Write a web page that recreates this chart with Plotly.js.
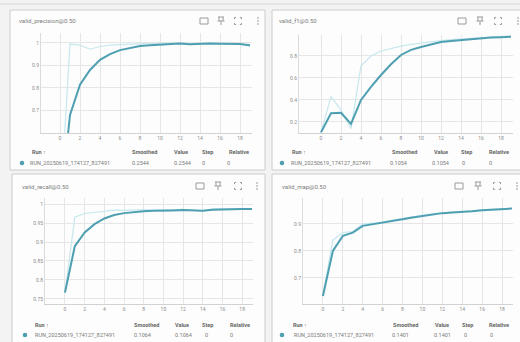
<!DOCTYPE html>
<html><head><meta charset="utf-8">
<script src="https://cdn.plot.ly/plotly-3.0.1.min.js"></script>
<style>html,body{margin:0;padding:0;background:#f3f3f3;}#chart{width:520px;height:342px;}</style>
</head><body><div id="chart"></div>
<script>
// ---------------- data ----------------
const steps = [0,1,2,3,4,5,6,7,8,9,10,11,12,13,14,15,16,17,18,19];
const chartTitles = ['valid_precision@0.50','valid_f1@0.50','valid_recall@0.50','valid_map@0.50'];

const precisionValue    = [0.2544,0.995,0.99,0.972,0.984,0.99,0.992,0.995,0.996,0.997,0.998,0.998,0.999,0.992,0.998,0.999,0.996,0.998,0.994,0.985];
const precisionSmoothed = [0.2544,0.68,0.815,0.88,0.925,0.95,0.968,0.978,0.986,0.99,0.993,0.995,0.997,0.994,0.996,0.997,0.996,0.997,0.995,0.99];

const f1Value    = [0.1054,0.43,0.31,0.14,0.71,0.8,0.845,0.87,0.89,0.905,0.918,0.93,0.94,0.948,0.955,0.962,0.967,0.972,0.976,0.98];
const f1Smoothed = [0.1054,0.28,0.283,0.182,0.4,0.52,0.627,0.725,0.809,0.855,0.882,0.906,0.927,0.936,0.945,0.955,0.962,0.967,0.971,0.975];

const recallValue    = [0.767,0.965,0.975,0.978,0.982,0.984,0.983,0.984,0.985,0.984,0.984,0.985,0.986,0.983,0.982,0.987,0.988,0.987,0.988,0.988];
const recallSmoothed = [0.767,0.889,0.925,0.947,0.962,0.971,0.976,0.979,0.981,0.982,0.982,0.983,0.984,0.983,0.982,0.985,0.986,0.986,0.987,0.987];

const mapValue    = [0.633,0.84,0.868,0.872,0.9,0.902,0.905,0.914,0.92,0.925,0.932,0.938,0.941,0.943,0.945,0.948,0.952,0.954,0.956,0.958];
const mapSmoothed = [0.633,0.8,0.856,0.868,0.893,0.899,0.9025,0.911,0.917,0.924,0.93,0.936,0.94,0.942,0.944,0.947,0.951,0.953,0.955,0.957];

const runName = 'RUN_20250619_174127_827491';
const legendHeaders = ['Run ↑','Smoothed','Value','Step','Relative'];
const legendSmoothed = ['0.2544','0.1054','0.1064','0.1401'];
const legendValue = ['0.2544','0.1054','0.1064','0.1401'];
const legendStep = ['0','0','0','0'];
const legendRelative = ['0','0','0','0'];

const xTickVals = [0,2,4,6,8,10,12,14,16,18];
const xTickText = ['0','2','4','6','8','10','12','14','16','18'];
const yTickVals = [[0.7,0.8,0.9,1],[0.2,0.4,0.6,0.8],[0.75,0.8,0.85,0.9,0.95,1],[0.7,0.8,0.9]];
const yTickText = [['0.7','0.8','0.9','1'],['0.2','0.4','0.6','0.8'],['0.75','0.8','0.85','0.9','0.95','1'],['0.7','0.8','0.9']];

const seriesValue = [precisionValue, f1Value, recallValue, mapValue];
const seriesSmoothed = [precisionSmoothed, f1Smoothed, recallSmoothed, mapSmoothed];

// ---------------- layout geometry (pixels) ----------------
const W = 520, H = 342;
const panels = [
  {plot:[41,252,33,133], xr:[-1.9,19.2], yr:[0.6,1.044], card:[10,265,10,170], title:[17,21], icons:[204,221,238,258], iy:21,
   head:152, row:163, cols:[30,130,172,200,227], dot:22, name:28, vals:[130,172,200,225]},
  {plot:[299,513,34.5,133], xr:[-2.2,19.2], yr:[0.1,0.995], card:[272,530,10,170], title:[277,21], icons:[462,480,498,518], iy:21,
   head:152, row:163, cols:[290,390,432,459,487], dot:282, name:289, vals:[388,430,460,487]},
  {plot:[45,253,198,304], xr:[-2.03,19.1], yr:[0.7368,1.0158], card:[12,265,174,360], title:[20,186], icons:[200,218,238,257], iy:186,
   head:325, row:335, cols:[33,132,173,200,228], dot:25, name:33, vals:[132,173,203,228]},
  {plot:[303,513,198,304], xr:[-2.0,19.1], yr:[0.6037,0.996], card:[272,530,174,360], title:[280,186], icons:[459,478,497,517], iy:186,
   head:325, row:335, cols:[291,391,433,460,487], dot:282, name:292, vals:[390,432,462,488]}
];
const px = x => x / W;
const py = y => 1 - y / H;

const FONT = 'Roboto, "Noto Sans", sans-serif';
const SMOOTH_COLOR = '#4e9fb1';
const RAW_COLOR = '#c6e8ee';

const traces = [];
const layout = {
  width: W, height: H,
  margin: {l:0, r:0, t:0, b:0},
  paper_bgcolor: '#f3f3f3',
  plot_bgcolor: 'rgba(0,0,0,0)',
  showlegend: false,
  font: {family: FONT, size: 5, color: '#8a8a8a'},
  shapes: [], annotations: []
};

// top window line
layout.shapes.push({type:'line', xref:'paper', yref:'paper', x0:0, x1:1, y0:py(4), y1:py(4), line:{color:'#d6d6d6', width:1}, layer:'below'});

panels.forEach((p, i) => {
  const sfx = i === 0 ? '' : String(i + 1);
  // card
  layout.shapes.push({type:'rect', xref:'paper', yref:'paper', x0:px(p.card[0]), x1:px(p.card[1]), y0:py(p.card[3]), y1:py(p.card[2]),
    fillcolor:'#fdfdfd', line:{color:'#cccccc', width:1}, layer:'below'});

  layout['xaxis' + sfx] = {
    domain:[px(p.plot[0]), px(p.plot[1])], anchor:'y' + sfx, range:p.xr,
    tickmode:'array', tickvals:xTickVals, ticktext:xTickText,
    showgrid:true, gridcolor:'#e6e6e6', gridwidth:1, zeroline:false,
    showline:true, linecolor:'#d2d2d2', linewidth:1, ticks:'',
    tickfont:{size:5, color:'#8c8c8c', family:FONT}, fixedrange:true
  };
  layout['yaxis' + sfx] = {
    domain:[py(p.plot[3]), py(p.plot[2])], anchor:'x' + sfx, range:p.yr,
    tickmode:'array', tickvals:yTickVals[i], ticktext:yTickText[i],
    showgrid:true, gridcolor:'#e6e6e6', gridwidth:1, zeroline:false,
    showline:true, linecolor:'#dcdcdc', linewidth:1, ticks:'',
    tickfont:{size:5, color:'#8c8c8c', family:FONT}, fixedrange:true
  };

  traces.push({type:'scatter', mode:'lines', x:steps, y:seriesValue[i], xaxis:'x' + sfx, yaxis:'y' + sfx,
    line:{color:RAW_COLOR, width:1.2}, hoverinfo:'skip'});
  traces.push({type:'scatter', mode:'lines', x:steps, y:seriesSmoothed[i], xaxis:'x' + sfx, yaxis:'y' + sfx,
    line:{color:SMOOTH_COLOR, width:2}, hoverinfo:'skip'});

  // title
  layout.annotations.push({xref:'paper', yref:'paper', x:px(p.title[0]), y:py(p.title[1]), xanchor:'left', yanchor:'middle',
    text:chartTitles[i], showarrow:false, font:{size:6, color:'#7c7c7c', family:FONT}});

  // icons
  const ic = p.icons, iy = p.iy;
  layout.shapes.push({type:'rect', xref:'paper', yref:'paper', x0:px(ic[0]-4), x1:px(ic[0]+4), y0:py(iy+3), y1:py(iy-3),
    line:{color:'#9a9a9a', width:1}, fillcolor:'rgba(0,0,0,0)'});
  const pX = ic[1];
  const pinPath = `M ${px(pX-3)} ${py(iy-4)} L ${px(pX+3)} ${py(iy-4)} M ${px(pX-2)} ${py(iy-4)} L ${px(pX-2)} ${py(iy)} M ${px(pX+2)} ${py(iy-4)} L ${px(pX+2)} ${py(iy)} M ${px(pX-3.5)} ${py(iy)} L ${px(pX+3.5)} ${py(iy)} M ${px(pX)} ${py(iy)} L ${px(pX)} ${py(iy+4)}`;
  layout.shapes.push({type:'path', xref:'paper', yref:'paper', path:pinPath, line:{color:'#9a9a9a', width:1}});
  const fX = ic[2], s = 3.5, c = 1.6;
  const fsPath = [
    `M ${px(fX-s)} ${py(iy-s+c)} L ${px(fX-s)} ${py(iy-s)} L ${px(fX-s+c)} ${py(iy-s)}`,
    `M ${px(fX+s-c)} ${py(iy-s)} L ${px(fX+s)} ${py(iy-s)} L ${px(fX+s)} ${py(iy-s+c)}`,
    `M ${px(fX-s)} ${py(iy+s-c)} L ${px(fX-s)} ${py(iy+s)} L ${px(fX-s+c)} ${py(iy+s)}`,
    `M ${px(fX+s-c)} ${py(iy+s)} L ${px(fX+s)} ${py(iy+s)} L ${px(fX+s)} ${py(iy+s-c)}`
  ].join(' ');
  layout.shapes.push({type:'path', xref:'paper', yref:'paper', path:fsPath, line:{color:'#9a9a9a', width:1}});
  [-3, 0, 3].forEach(d => {
    layout.shapes.push({type:'circle', xref:'paper', yref:'paper', x0:px(ic[3]-0.8), x1:px(ic[3]+0.8), y0:py(iy+d+0.8), y1:py(iy+d-0.8),
      fillcolor:'#8c8c8c', line:{width:0}});
  });

  // legend header
  legendHeaders.forEach((h, k) => {
    layout.annotations.push({xref:'paper', yref:'paper', x:px(p.cols[k]), y:py(p.head), xanchor:'left', yanchor:'middle',
      text:'<b>' + h + '</b>', showarrow:false, font:{size:5.5, color:'#666666', family:FONT}});
  });
  // legend row
  layout.shapes.push({type:'circle', xref:'paper', yref:'paper', x0:px(p.dot-2.3), x1:px(p.dot+2.3), y0:py(p.row+2.3), y1:py(p.row-2.3),
    fillcolor:SMOOTH_COLOR, line:{width:0}});
  const rowTexts = [runName, legendSmoothed[i], legendValue[i], legendStep[i], legendRelative[i]];
  const rowX = [p.name].concat(p.vals);
  rowTexts.forEach((t, k) => {
    layout.annotations.push({xref:'paper', yref:'paper', x:px(rowX[k]), y:py(p.row), xanchor:'left', yanchor:'middle',
      text:t, showarrow:false, font:{size:5.5, color:'#7a7a7a', family:FONT}});
  });
});

Plotly.newPlot('chart', traces, layout, {displayModeBar:false, staticPlot:true});
</script>
</body></html>
